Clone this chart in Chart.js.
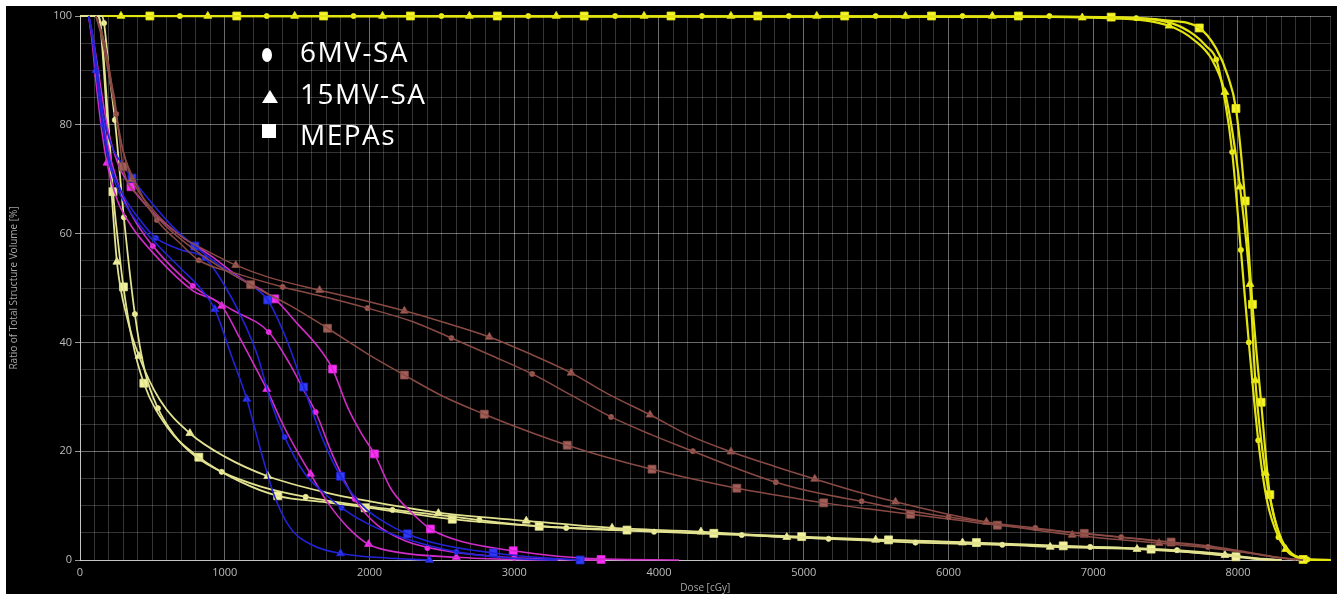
<!DOCTYPE html>
<html>
<head>
<meta charset="utf-8">
<script src="https://cdn.jsdelivr.net/npm/chart.js@4.4.1/dist/chart.umd.min.js"></script>
<style>
  html, body { margin:0; padding:0; background:#fff; }
  #wrap { position:absolute; left:6px; top:6px; width:1331px; height:588px; background:#000; }
  #legend { position:absolute; left:0; top:0; color:#fff; font-family:"Open Sans", sans-serif; font-size:28px; letter-spacing:1.5px; }
  .lg { position:absolute; left:294px; white-space:nowrap; line-height:1; }
  .sym { position:absolute; background:#fff; }
</style>
</head>
<body>
<div id="wrap">
  <canvas id="dvh" width="1331" height="588"></canvas>
  <div id="legend">
    <div class="sym" style="left:256px;top:42px;width:10px;height:14px;border-radius:50%"></div>
    <div class="lg" style="top:31px">6MV-SA</div>
    <div class="sym" style="left:256px;top:84px;width:0;height:0;background:none;border-left:8px solid transparent;border-right:8px solid transparent;border-bottom:13px solid #fff"></div>
    <div class="lg" style="top:73px">15MV-SA</div>
    <div class="sym" style="left:256px;top:118px;width:14px;height:14px"></div>
    <div class="lg" style="top:114px">MEPAs</div>
  </div>
</div>
<script>
// DVH curves: [dose cGy, volume %]
// PTV (bright yellow)
const ptv6Line = [[0,100],[6500,99.9],[7300,99.6],[7550,98.6],[7700,96.5],[7780,94.5],[7850,92],[7910,84.5],[7960,75],[8020,57],[8075,40],[8140,22],[8200,11],[8280,4.2],[8370,1.2],[8480,0.1],[8640,0]];
const ptv6Marks = [[690,100],[1290,100],[1890,100],[2497,100],[3097,100],[3697,100],[4297,100],[4897,100],[5497,100],[6097,100],[6697,100],[7297,99.6],[7850,92],[7960,75],[8020,57],[8075,40],[8140,22],[8280,4.2],[8480,0.1]];
const ptv15Line = [[0,100],[6500,99.9],[7100,99.6],[7524,98.2],[7700,95.5],[7820,92],[7910,86],[7960,79],[8014,68.6],[8083,50.7],[8120,33],[8190,16],[8250,8],[8330,2],[8420,0.5],[8520,0],[8640,0]];
const ptv15Marks = [[283,100],[883,100],[1483,100],[2090,100],[2690,100],[3290,100],[3897,100],[4497,100],[5090,100],[5703,100],[6303,100],[6924,99.7],[7524,98.2],[7910,86],[8014,68.6],[8083,50.7],[8120,33],[8190,16],[8330,2]];
const ptvMLine = [[0,100],[6500,99.9],[7124,99.8],[7500,99.2],[7733,97.8],[7850,94],[7930,89],[7986,83],[8050,66],[8100,47],[8160,29],[8220,12],[8290,4.5],[8370,1.2],[8450,0.1],[8640,0]];
const ptvMMarks = [[483,100],[1083,100],[1683,100],[2283,100],[2883,100],[3483,100],[4083,100],[4683,100],[5283,100],[5883,100],[6483,100],[7124,99.8],[7733,97.8],[7986,83],[8050,66],[8100,47],[8160,29],[8220,12],[8450,0.1]];

// low dose structure (pale yellow)
const pale6Line = [[0,100],[150,100],[166,98.7],[200,90],[241,80.9],[303,63],[379,45.2],[450,34.5],[538,27.9],[650,23],[800,19],[979,16.2],[1250,13.5],[1559,11.6],[2000,9.8],[2500,8.2],[3000,6.6],[3359,5.9],[3966,5.2],[4572,4.6],[5172,3.9],[5772,3.2],[6372,2.8],[6979,2.4],[7579,1.8],[7900,1.1],[8100,0.4],[8300,0]];
const pale6Marks = [[166,98.7],[241,80.9],[303,63],[379,45.2],[538,27.9],[979,16.2],[1559,11.6],[2159,9.2],[2759,7.4],[3359,5.9],[3966,5.2],[4572,4.6],[5172,3.9],[5772,3.2],[6372,2.8],[6979,2.4],[7579,1.8]];
const pale15Line = [[0,100],[125,100],[145,97],[175,86],[210,71],[255,54.8],[330,44],[407,37.5],[550,29.5],[759,23.3],[1000,19],[1297,15.4],[1700,12.4],[2000,10.8],[2476,8.7],[3083,7.2],[3676,5.9],[4290,5.2],[4883,4.2],[5497,3.7],[6097,3.2],[6703,2.4],[7303,2.0],[7910,0.9],[8150,0.2],[8300,0]];
const pale15Marks = [[255,54.8],[407,37.5],[759,23.3],[1297,15.4],[2476,8.6],[3083,7.2],[3676,5.9],[4290,5.2],[4883,4.2],[5497,3.7],[6097,3.2],[6703,2.4],[7303,2.0],[7910,0.9]];
const paleMLine = [[0,100],[120,100],[140,99],[170,90],[200,79],[228,67.7],[265,58],[300,50.2],[360,40.5],[441,32.5],[600,24.5],[821,18.9],[1100,14.5],[1366,11.8],[1700,10.6],[2000,9.6],[2572,7.5],[3172,6.2],[3779,5.5],[4379,4.9],[4986,4.3],[5586,3.7],[6193,3.2],[6793,2.6],[7400,2.0],[7986,0.6],[8150,0.1],[8300,0]];
const paleMMarks = [[228,67.7],[300,50.2],[441,32.5],[821,18.9],[1366,11.8],[1970,9.6],[2572,7.5],[3172,6.2],[3779,5.5],[4379,4.9],[4986,4.3],[5586,3.7],[6193,3.2],[6793,2.6],[7400,2.0],[7986,0.6]];

// blue structure
const blue6Line = [[60,100],[90,96],[120,89],[160,80],[220,72],[300,67],[400,63],[524,59.2],[700,57],[862,55.5],[1055,47.8],[1221,38],[1320,29],[1414,22.6],[1550,16],[1700,12],[1807,9.6],[2000,6.5],[2262,3.8],[2600,1.5],[3000,0.3],[3300,0]];
const blue6Marks = [[160,80],[524,59.2],[862,55.5],[1414,22.6],[1807,9.6],[2600,1.5]];
const blue15Line = [[60,100],[85,96],[110,90],[150,81],[200,73],[280,67],[400,62],[550,57.5],[700,53.5],[830,50],[931,46.1],[1040,38],[1152,29.6],[1250,20],[1340,12],[1450,6],[1600,2.8],[1800,1.2],[2100,0.4],[2414,0]];
const blue15Marks = [[110,90],[931,46.1],[1152,29.6],[1800,1.2],[2414,0]];
const blueMLine = [[60,100],[90,96],[120,90],[160,82],[220,76],[300,72.5],[359,70.2],[500,65.5],[650,61],[793,57.7],[1000,53.5],[1150,51],[1297,47.8],[1420,41],[1545,31.8],[1680,22],[1800,15.4],[1950,10],[2100,7],[2262,4.8],[2500,2.8],[2855,1.3],[3200,0.4],[3455,0]];
const blueMMarks = [[359,70.2],[793,57.7],[1297,47.8],[1545,31.8],[1800,15.4],[2262,4.8],[2855,1.3],[3455,0]];

// magenta structure
const mag6Line = [[60,100],[90,95],[120,89],[160,81],[220,73],[300,66.5],[400,61.5],[503,57.7],[779,50.4],[1050,46],[1304,41.9],[1450,36],[1550,31],[1628,27.2],[1750,19],[1897,11.2],[2050,6.5],[2250,3.5],[2500,1.8],[2900,0.6],[3300,0.1],[3600,0]];
const mag6Marks = [[120,89],[503,57.7],[779,50.4],[1304,41.9],[1628,27.2],[1897,11.2],[2400,2.2],[3000,0.4]];
const mag15Line = [[60,100],[85,95],[110,88],[150,79],[186,73],[260,66],[352,61.5],[503,56.5],[779,49.5],[979,46.7],[1100,41],[1200,36],[1290,31.4],[1400,25],[1500,20],[1593,15.8],[1700,11],[1850,6],[1993,2.9],[2200,1.4],[2600,0.5],[3000,0.1],[3300,0]];
const mag15Marks = [[186,73],[979,46.7],[1290,31.4],[1593,15.8],[1993,2.9],[2600,0.5]];
const magMLine = [[60,100],[90,96],[120,91],[186,80],[260,73],[352,68.6],[500,64],[700,59.5],[900,56],[1100,52],[1345,48],[1500,43.5],[1650,39],[1745,35.1],[1850,28],[1950,23],[2034,19.5],[2150,13],[2280,9],[2421,5.7],[2650,3.3],[2993,1.7],[3300,0.7],[3600,0.2],[4138,0]];
const magMMarks = [[352,68.6],[1345,48],[1745,35.1],[2034,19.5],[2421,5.7],[2993,1.7],[3600,0.1]];

// brown structure
const brown6Line = [[110,100],[160,96],[210,89],[250,82],[300,75],[400,68.5],[531,62.5],[700,58],[821,55.1],[1100,52.5],[1400,50.2],[1700,48.3],[1986,46.3],[2300,43.8],[2566,40.8],[2850,37.5],[3124,34.2],[3400,30.2],[3669,26.3],[3950,23],[4234,20],[4520,17],[4807,14.3],[5100,12.3],[5400,10.8],[5700,9.2],[6000,7.9],[6300,6.8],[6600,5.9],[6900,4.9],[7193,4.2],[7500,3.3],[7793,2.4],[8050,1.4],[8250,0.5],[8400,0]];
const brown6Marks = [[250,82],[531,62.5],[821,55.1],[1400,50.2],[1986,46.3],[2566,40.8],[3124,34.2],[3669,26.3],[4234,20],[4807,14.3],[5400,10.8],[6000,7.9],[6600,5.9],[7193,4.2],[7793,2.4]];
const brown15Line = [[110,100],[150,96],[200,89],[240,83],[290,76],[359,70],[500,64.5],[700,59.5],[900,56.5],[1076,54.2],[1300,52],[1655,49.6],[1950,47.8],[2241,45.8],[2500,43.8],[2828,41],[3100,38],[3393,34.4],[3650,30.5],[3938,26.7],[4200,23],[4497,19.9],[4800,17.2],[5076,14.9],[5350,12.7],[5634,10.7],[5950,8.7],[6262,7.0],[6550,5.7],[6855,4.6],[7150,3.8],[7455,3.1],[7800,2.2],[8100,1.2],[8300,0.4],[8450,0]];
const brown15Marks = [[359,70],[1076,54.2],[1655,49.6],[2241,45.8],[2828,41],[3393,34.4],[3938,26.7],[4497,19.9],[5076,14.9],[5634,10.7],[6262,7.0],[6855,4.6],[7455,3.1]];
const brownMLine = [[110,100],[170,95],[215,88],[241,84.5],[270,78],[297,72.3],[414,66.7],[531,63],[650,60],[900,55],[1179,50.6],[1450,46.8],[1710,42.6],[1980,38],[2241,34],[2500,30.2],[2793,26.8],[3080,23.8],[3366,21.1],[3650,18.8],[3952,16.7],[4250,14.8],[4538,13.2],[4840,11.8],[5138,10.5],[5440,9.4],[5738,8.4],[6040,7.4],[6338,6.4],[6640,5.6],[6938,4.9],[7240,4.1],[7538,3.3],[7850,2.4],[8100,1.3],[8300,0.4],[8450,0]];
const brownMMarks = [[297,72.3],[1179,50.6],[1710,42.6],[2241,34],[2793,26.8],[3366,21.1],[3952,16.7],[4538,13.2],[5138,10.5],[5738,8.4],[6338,6.4],[6938,4.9],[7538,3.3]];

// axes
const doseMax = 8640;
const doseLabelStep = 1000;
const volLabelStep = 20;

// styling per structure / technique
const groups = [
  { name:'brown', line:'#8a4a44', mark:'#a0605a', width:1.5,
    sets:[[brown6Line,brown6Marks,'circle'],[brown15Line,brown15Marks,'triangle'],[brownMLine,brownMMarks,'rect']] },
  { name:'blue', line:'#2323d8', mark:'#2f3cf5', width:1.6,
    sets:[[blue6Line,blue6Marks,'circle'],[blue15Line,blue15Marks,'triangle'],[blueMLine,blueMMarks,'rect']] },
  { name:'magenta', line:'#d02cc8', mark:'#ff2cff', width:1.6,
    sets:[[mag6Line,mag6Marks,'circle'],[mag15Line,mag15Marks,'triangle'],[magMLine,magMMarks,'rect']] },
  { name:'pale', line:'#e2e290', mark:'#f4f4a0', width:1.8,
    sets:[[pale6Line,pale6Marks,'circle'],[pale15Line,pale15Marks,'triangle'],[paleMLine,paleMMarks,'rect']] },
  { name:'ptv', line:'#e4e410', mark:'#f5f530', width:2.2,
    sets:[[ptv6Line,ptv6Marks,'circle'],[ptv15Line,ptv15Marks,'triangle'],[ptvMLine,ptvMMarks,'rect']] }
];
const markRadius = { circle:2.6, triangle:4.6, rect:5.6 };

const datasets = [];
for (const g of groups) {
  for (const [line, marks, style] of g.sets) {
    datasets.push({
      data: line, borderColor: g.line, borderWidth: g.width,
      pointRadius: 0, cubicInterpolationMode: 'monotone', fill: false, clip: false
    });
    datasets.push({
      data: marks, showLine: false, pointStyle: style, pointRadius: markRadius[style],
      pointBackgroundColor: g.mark, pointBorderColor: g.line, pointBorderWidth: 0.8, clip: false
    });
  }
}

const minorGrid = 'rgba(255,255,255,0.2)';
const majorGrid = 'rgba(255,255,255,0.42)';
const tickFont = { family:'"Open Sans", sans-serif', size:11 };

new Chart(document.getElementById('dvh'), {
  type: 'line',
  data: { datasets },
  options: {
    responsive: false, animation: false, devicePixelRatio: 1,
    layout: { padding: { top:10, right:5, left:0, bottom:0 } },
    plugins: { legend: { display:false }, tooltip: { enabled:false } },
    scales: {
      x: {
        type: 'linear', min: 0, max: doseMax,
        afterFit: s => { s.height = 34; },
        ticks: { stepSize: 100, autoSkip: false, maxRotation: 0, color:'#bdbdbd', font: tickFont, padding: 6,
          callback: v => (v % doseLabelStep === 0 ? String(v) : '') },
        grid: { color: c => (c.tick && c.tick.value % doseLabelStep === 0 ? majorGrid : minorGrid), lineWidth: 1, drawTicks: false },
        border: { color:'rgba(255,255,255,0.6)', width:1 },
        title: { display:true, text:'Dose [cGy]', color:'#a8a8a8', font:{ family:'"Open Sans", sans-serif', size:10 }, padding:{ top:0, bottom:0 } }
      },
      y: {
        type: 'linear', min: 0, max: 100,
        afterFit: s => { s.width = 74; },
        ticks: { stepSize: 5, autoSkip: false, color:'#bdbdbd', font: tickFont, padding: 3,
          callback: v => (v % volLabelStep === 0 ? String(v) : '') },
        grid: { color: c => (c.tick && c.tick.value % volLabelStep === 0 ? majorGrid : minorGrid), lineWidth: 1,
          tickLength: 5, tickColor: c => (c.tick && c.tick.value % volLabelStep === 0 ? '#9a9a9a' : 'rgba(0,0,0,0)') },
        border: { color:'rgba(255,255,255,0.6)', width:1 },
        title: { display:true, text:'Ratio of Total Structure Volume [%]', color:'#a8a8a8', font:{ family:'"Open Sans", sans-serif', size:10 }, padding:{ top:2, bottom:0 } }
      }
    }
  }
});
</script>
</body>
</html>
